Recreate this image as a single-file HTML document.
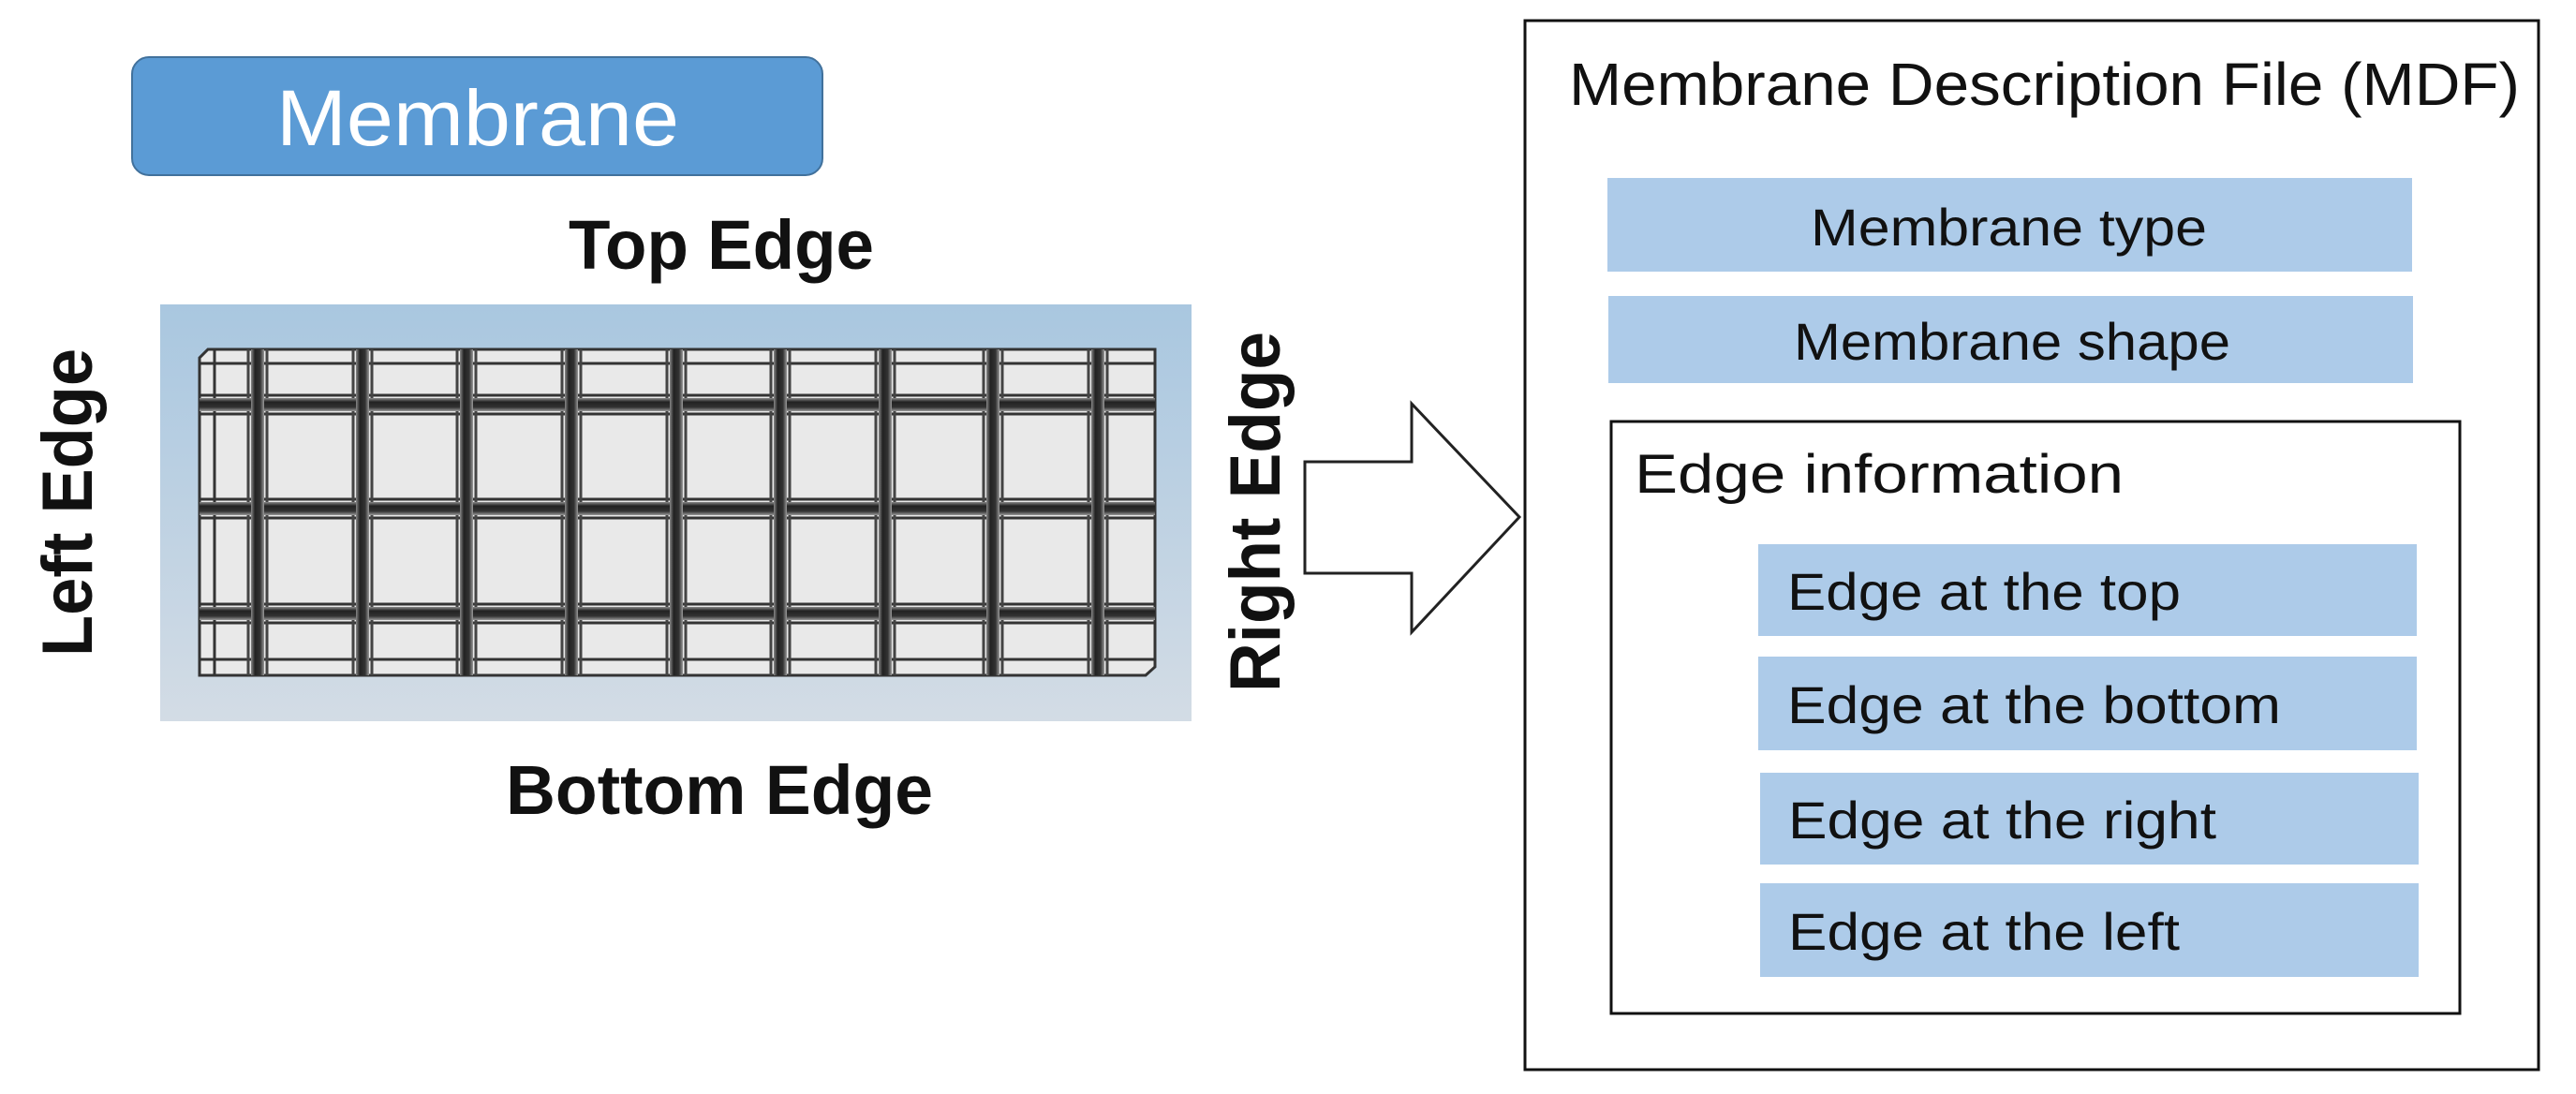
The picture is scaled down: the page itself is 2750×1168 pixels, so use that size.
<!DOCTYPE html>
<html><head><meta charset="utf-8"><style>html,body{margin:0;padding:0;background:#fff}svg{display:block}</style></head>
<body>
<svg width="2750" height="1168" viewBox="0 0 2750 1168" xmlns="http://www.w3.org/2000/svg" font-family="'Liberation Sans', sans-serif">
<defs>
<linearGradient id="pg" x1="0" y1="0" x2="0" y2="1"><stop offset="0" stop-color="#a9c7e0"/><stop offset="1" stop-color="#d3dce5"/></linearGradient>
<linearGradient id="hl" x1="0" y1="0" x2="0" y2="1"><stop offset="0" stop-color="#888"/><stop offset="0.3" stop-color="#222"/><stop offset="0.7" stop-color="#333"/><stop offset="1" stop-color="#999"/></linearGradient>
<linearGradient id="vl" x1="0" y1="0" x2="1" y2="0"><stop offset="0" stop-color="#888"/><stop offset="0.3" stop-color="#222"/><stop offset="0.7" stop-color="#333"/><stop offset="1" stop-color="#999"/></linearGradient>
</defs>
<rect width="2750" height="1168" fill="#fff"/>
<rect x="141" y="61" width="737" height="126" rx="18" fill="#5b9bd5" stroke="#41719c" stroke-width="2"/>
<text x="510" y="155" font-size="84" fill="#fff" text-anchor="middle" textLength="430" lengthAdjust="spacingAndGlyphs">Membrane</text>
<text x="607" y="287" font-size="74" font-weight="bold" fill="#111" textLength="326" lengthAdjust="spacingAndGlyphs">Top Edge</text>
<text x="540" y="869" font-size="74" font-weight="bold" fill="#111" textLength="456" lengthAdjust="spacingAndGlyphs">Bottom Edge</text>
<text transform="translate(98,701) rotate(-90)" font-size="76" font-weight="bold" fill="#111" textLength="329" lengthAdjust="spacingAndGlyphs">Left Edge</text>
<text transform="translate(1366,739) rotate(-90)" font-size="76" font-weight="bold" fill="#111" textLength="385" lengthAdjust="spacingAndGlyphs">Right Edge</text>
<rect x="171" y="325" width="1101" height="445" fill="url(#pg)"/>
<polygon points="222,373 1233,373 1233,712 1223,721 213,721 213,382" fill="#e9e9e9" stroke="#333" stroke-width="3"/>
<g fill="none" stroke="#333" stroke-width="3">
<line x1="213" y1="388" x2="1233" y2="388"/>
<line x1="213" y1="704" x2="1233" y2="704"/>
<line x1="229" y1="373" x2="229" y2="721"/>
<line x1="213" y1="422" x2="1233" y2="422"/><line x1="213" y1="442" x2="1233" y2="442"/>
<line x1="213" y1="533" x2="1233" y2="533"/><line x1="213" y1="553" x2="1233" y2="553"/>
<line x1="213" y1="645" x2="1233" y2="645"/><line x1="213" y1="665" x2="1233" y2="665"/>
</g>
<g fill="none" stroke="#444" stroke-width="3">
<line x1="265" y1="373" x2="265" y2="721"/><line x1="285" y1="373" x2="285" y2="721"/>
<line x1="377" y1="373" x2="377" y2="721"/><line x1="397" y1="373" x2="397" y2="721"/>
<line x1="488" y1="373" x2="488" y2="721"/><line x1="508" y1="373" x2="508" y2="721"/>
<line x1="600" y1="373" x2="600" y2="721"/><line x1="620" y1="373" x2="620" y2="721"/>
<line x1="712" y1="373" x2="712" y2="721"/><line x1="732" y1="373" x2="732" y2="721"/>
<line x1="823" y1="373" x2="823" y2="721"/><line x1="843" y1="373" x2="843" y2="721"/>
<line x1="935" y1="373" x2="935" y2="721"/><line x1="955" y1="373" x2="955" y2="721"/>
<line x1="1050" y1="373" x2="1050" y2="721"/><line x1="1070" y1="373" x2="1070" y2="721"/>
<line x1="1162" y1="373" x2="1162" y2="721"/><line x1="1182" y1="373" x2="1182" y2="721"/>
</g>
<g fill="url(#hl)">
<rect x="213" y="425" width="1020" height="14"/>
<rect x="213" y="536" width="1020" height="14"/>
<rect x="213" y="648" width="1020" height="14"/>
</g>
<g fill="url(#vl)">
<rect x="268" y="373" width="14" height="348"/>
<rect x="380" y="373" width="14" height="348"/>
<rect x="491" y="373" width="14" height="348"/>
<rect x="603" y="373" width="14" height="348"/>
<rect x="715" y="373" width="14" height="348"/>
<rect x="826" y="373" width="14" height="348"/>
<rect x="938" y="373" width="14" height="348"/>
<rect x="1053" y="373" width="14" height="348"/>
<rect x="1165" y="373" width="14" height="348"/>
</g>
<polygon points="1393,493 1507,493 1507,431 1622,552 1507,675 1507,612 1393,612" fill="#fff" stroke="#222" stroke-width="3"/>
<rect x="1628" y="22" width="1082" height="1120" fill="#fff" stroke="#111" stroke-width="3"/>
<text x="1675" y="112" font-size="64" fill="#111" textLength="1015" lengthAdjust="spacingAndGlyphs">Membrane Description File (MDF)</text>
<rect x="1716" y="190" width="859" height="100" fill="#adcbe9"/>
<text x="1933" y="262" font-size="56" fill="#111" textLength="423" lengthAdjust="spacingAndGlyphs">Membrane type</text>
<rect x="1717" y="316" width="859" height="93" fill="#adcbe9"/>
<text x="1915" y="384" font-size="56" fill="#111" textLength="466" lengthAdjust="spacingAndGlyphs">Membrane shape</text>
<rect x="1720" y="450" width="906" height="632" fill="#fff" stroke="#111" stroke-width="3"/>
<text x="1745" y="526" font-size="58" fill="#111" textLength="522" lengthAdjust="spacingAndGlyphs">Edge information</text>
<rect x="1877" y="581" width="703" height="98" fill="#adcbe9"/>
<text x="1908" y="651" font-size="56" fill="#111" textLength="420" lengthAdjust="spacingAndGlyphs">Edge at the top</text>
<rect x="1877" y="701" width="703" height="100" fill="#adcbe9"/>
<text x="1908" y="772" font-size="56" fill="#111" textLength="527" lengthAdjust="spacingAndGlyphs">Edge at the bottom</text>
<rect x="1879" y="825" width="703" height="98" fill="#adcbe9"/>
<text x="1909" y="895" font-size="56" fill="#111" textLength="457" lengthAdjust="spacingAndGlyphs">Edge at the right</text>
<rect x="1879" y="943" width="703" height="100" fill="#adcbe9"/>
<text x="1909" y="1014" font-size="56" fill="#111" textLength="418" lengthAdjust="spacingAndGlyphs">Edge at the left</text>
</svg>
</body></html>
